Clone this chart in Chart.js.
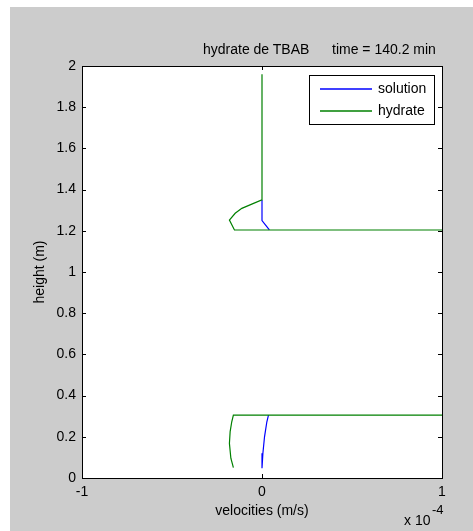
<!DOCTYPE html>
<html>
<head>
<meta charset="utf-8">
<script src="https://cdn.jsdelivr.net/npm/chart.js@4/dist/chart.umd.min.js"></script>
<style>
    body { margin: 0; width: 473px; height: 531px; overflow: hidden; position: relative; background: #fff;
           font-family: "Liberation Sans", Arial, sans-serif; font-size: 14px; color: #000; }
    #fig { position: absolute; left: 10px; top: 7px; width: 463px; height: 524px; background: #cccccc; }
    #plot { position: absolute; left: 0; top: 0; }
    .txt { position: absolute; white-space: nowrap; line-height: 14px; }
</style>
</head>
<body>
<div id="fig"></div>
<canvas id="plot" width="473" height="531"></canvas>

<div class="txt" style="left:203px; top:42px;">hydrate de TBAB</div>
<div class="txt" style="left:332px; top:42px;">time = 140.2 min</div>
<div class="txt" style="left:404px; top:513px;">x 10</div>
<div class="txt" style="left:432px; top:503px; font-size:13px;">-4</div>

<script>
// velocities in units of 1e-4 m/s, heights in m (visible parts only)
const solutionV = [0, 0, 0.041, null, 0.036, 0.027, 0.014, 0.005, 0];
const solutionH = [1.35, 1.25, 1.204, null, 0.305, 0.273, 0.200, 0.120, 0.047];

const hydrateV = [0, 0, -0.047, -0.112, -0.149, -0.181, -0.153, 1, null, 1, -0.159, -0.168, -0.177, -0.181, -0.173, -0.159];
const hydrateH = [1.96, 1.35, 1.333, 1.309, 1.285, 1.252, 1.204, 1.204, null, 0.305, 0.305, 0.273, 0.225, 0.168, 0.096, 0.050];

const xTickValues = [-1, 0, 1];
const xTickLabels = ['-1', '0', '1'];
const yTickValues = [0, 0.2, 0.4, 0.6, 0.8, 1, 1.2, 1.4, 1.6, 1.8, 2];
const yTickLabels = ['0', '0.2', '0.4', '0.6', '0.8', '1', '1.2', '1.4', '1.6', '1.8', '2'];

function toPoints(vs, hs) {
    return vs.map((v, i) => ({ x: v, y: hs[i] }));
}

const fontFamily = '"Liberation Sans", Arial, sans-serif';
const tickFont = { family: fontFamily, size: 14 };

// white axes box, black frame, inward ticks on all four sides, boxed legend
const axesBox = {
    id: 'axesBox',
    beforeDatasetsDraw(chart) {
        const { ctx, chartArea: a } = chart;
        ctx.save();
        ctx.fillStyle = '#fff';
        ctx.fillRect(a.left, a.top, a.right - a.left, a.bottom - a.top);
        ctx.restore();
    },
    afterDraw(chart) {
        const { ctx, chartArea: a, scales } = chart;
        const len = 4;
        ctx.save();
        ctx.strokeStyle = '#000';
        ctx.lineWidth = 1;
        ctx.strokeRect(a.left + 0.5, a.top + 0.5, a.right - a.left, a.bottom - a.top);
        ctx.beginPath();
        scales.y.ticks.forEach(t => {
            const py = Math.round(scales.y.getPixelForValue(t.value)) + 0.5;
            ctx.moveTo(a.left, py); ctx.lineTo(a.left + len, py);
            ctx.moveTo(a.right, py); ctx.lineTo(a.right - len, py);
        });
        scales.x.ticks.forEach(t => {
            const px = Math.round(scales.x.getPixelForValue(t.value)) + 0.5;
            ctx.moveTo(px, a.bottom); ctx.lineTo(px, a.bottom - len);
            ctx.moveTo(px, a.top); ctx.lineTo(px, a.top + len);
        });
        ctx.stroke();

        // legend box in the upper right corner
        const bx = a.right - 133, by = a.top + 9, bw = 126, bh = 50;
        ctx.fillStyle = '#fff';
        ctx.fillRect(bx, by, bw, bh);
        ctx.strokeStyle = '#000';
        ctx.strokeRect(bx + 0.5, by + 0.5, bw - 1, bh - 1);
        ctx.font = '14px ' + fontFamily;
        ctx.textBaseline = 'middle';
        ctx.textAlign = 'left';
        chart.data.datasets.forEach((ds, i) => {
            const ly = by + 14 + i * 22;
            ctx.strokeStyle = ds.borderColor;
            ctx.lineWidth = 1.4;
            ctx.beginPath();
            ctx.moveTo(bx + 11, ly);
            ctx.lineTo(bx + 63, ly);
            ctx.stroke();
            ctx.fillStyle = '#000';
            ctx.fillText(ds.label, bx + 69, ly);
        });
        ctx.restore();
    }
};

new Chart(document.getElementById('plot'), {
    type: 'scatter',
    data: {
        datasets: [
            {
                label: 'solution',
                data: toPoints(solutionV, solutionH),
                showLine: true,
                borderColor: '#0000ff',
                borderWidth: 1.2,
                pointRadius: 0,
                spanGaps: false,
                order: 1
            },
            {
                label: 'hydrate',
                data: toPoints(hydrateV, hydrateH),
                showLine: true,
                borderColor: '#008000',
                borderWidth: 1.2,
                pointRadius: 0,
                spanGaps: false,
                order: 0
            }
        ]
    },
    options: {
        responsive: false,
        animation: false,
        devicePixelRatio: 1,
        layout: { padding: { top: 66, right: 31, left: 0, bottom: 0 } },
        plugins: {
            legend: { display: false },
            tooltip: { enabled: false }
        },
        scales: {
            x: {
                type: 'linear',
                min: -1,
                max: 1,
                afterBuildTicks: s => { s.ticks = xTickValues.map(v => ({ value: v })); },
                afterFit: s => { s.height = 53; },
                grid: { display: false, drawTicks: false },
                border: { display: false },
                ticks: {
                    color: '#000',
                    font: tickFont,
                    padding: 6,
                    maxRotation: 0,
                    autoSkip: false,
                    callback: (v, i) => xTickLabels[i]
                },
                title: {
                    display: true,
                    text: 'velocities (m/s)',
                    color: '#000',
                    font: tickFont,
                    padding: { top: 0, bottom: 11 }
                }
            },
            y: {
                type: 'linear',
                min: 0,
                max: 2,
                afterBuildTicks: s => { s.ticks = yTickValues.map(v => ({ value: v })); },
                afterFit: s => { s.width = 82; },
                grid: { display: false, drawTicks: false },
                border: { display: false },
                ticks: {
                    color: '#000',
                    font: tickFont,
                    padding: 6,
                    autoSkip: false,
                    callback: (v, i) => yTickLabels[i]
                },
                title: {
                    display: true,
                    text: 'height (m)',
                    color: '#000',
                    font: tickFont,
                    padding: { top: 32, bottom: 0 }
                }
            }
        }
    },
    plugins: [axesBox]
});
</script>
</body>
</html>
